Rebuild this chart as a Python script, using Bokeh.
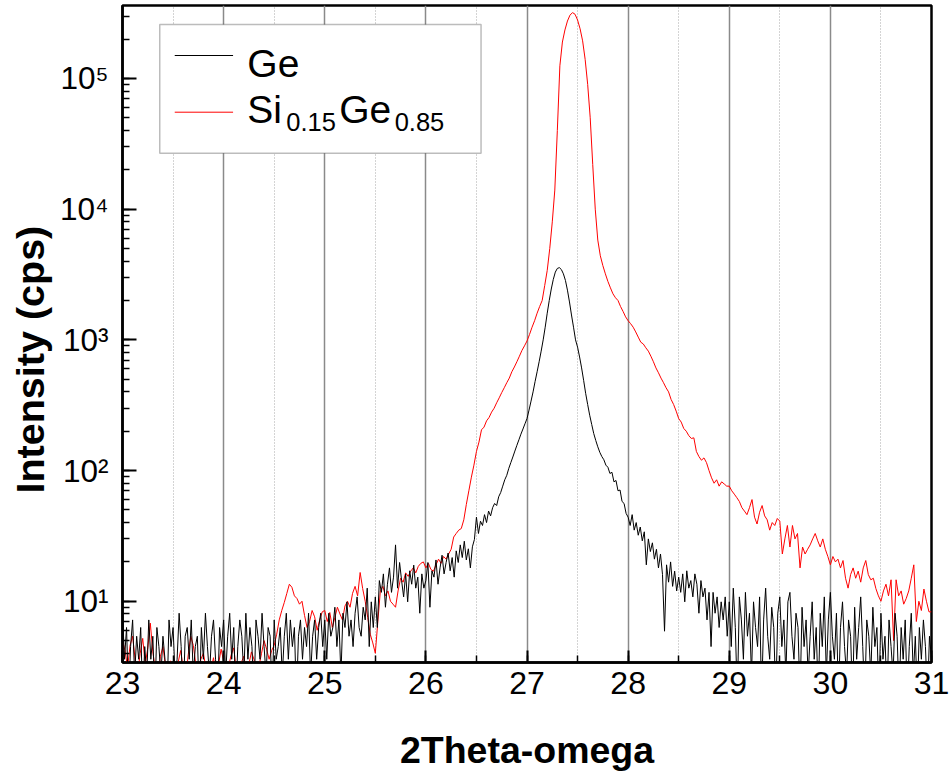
import numpy as np
from bokeh.plotting import figure
from bokeh.models import (Range1d, SingleIntervalTicker, LogTicker, Label, Title,
                          BoxAnnotation, CustomJSTickFormatter)
from bokeh.embed import file_html
from bokeh.resources import INLINE

# ---------------- data ----------------
ge_start, ge_step = 23.0, 0.02
ge_counts = [
    # 23.00 - 24.98
    8.1, 3.6, 6.3, 1.8, 4.5, 7.2, 2.7, 5.4, 3.6, 6.3,
    1.8, 4.5, 2.7, 7.2, 3.6, 5.4, 1.8, 6.3, 4.5, 2.7,
    5.4, 3.6, 1.8, 7.2, 4.5, 6.3, 2.7, 3.6, 8.1, 4.5,
    1.8, 5.4, 6.3, 3.6, 7.2, 2.7, 4.5, 5.4, 1.8, 6.3,
    3.6, 8.1, 4.5, 2.7, 5.4, 7.2, 3.6, 1.8, 6.3, 4.5,
    7.2, 2.7, 5.4, 8.1, 3.6, 6.3, 1.8, 4.5, 7.2, 5.4,
    2.7, 8.1, 3.6, 6.3, 4.5, 1.8, 7.2, 5.4, 3.6, 8.1,
    4.5, 2.7, 6.3, 5.4, 1.8, 7.2, 3.6, 4.5, 6.3, 2.7,
    5.4, 8.1, 3.6, 7.2, 4.5, 6.3, 1.8, 5.4, 7.2, 3.6,
    6.3, 4.5, 8.1, 2.7, 5.4, 7.2, 3.6, 6.3, 8.1, 4.5,
    # 25.00 - 25.48
    7.2, 3.6, 8.1, 5.4, 6.3, 9.0, 4.5, 7.2, 2.7, 8.1,
    6.3, 9.9, 5.4, 7.2, 4.5, 8.1, 10.8, 6.3, 5.4, 9.0,
    7.2, 12.6, 4.5, 9.9, 6.3,
    # 25.50 - 25.98
    10.8, 6.3, 14.4, 11.7, 16.2, 9.0, 13.5, 18.0, 11.7, 15.3,
    27.0, 12.6, 19.8, 14.4, 10.8, 16.2, 9.9, 17.1, 13.5, 18.9,
    12.6, 15.3, 8.1, 16.2, 12.6,
    # 26.00 - 26.48
    14.4, 19.8, 9.0, 17.1, 15.3, 20.7, 13.5, 18.0, 22.5, 16.2,
    19.8, 23.4, 17.1, 21.6, 15.3, 24.3, 19.8, 27.0, 21.6, 28.8,
    20.7, 25.2, 18.0, 26.1, 29.7,
    # 26.50 - 26.98
    44, 33, 41, 38, 46, 40, 49, 45, 52, 56,
    54, 63, 68, 76, 85, 92, 104, 115, 127, 141,
    156, 172, 190, 208, 228,
    # 27.00 - 27.48
    250, 290, 340, 400, 480, 570, 680, 820, 1000, 1250,
    1600, 2000, 2450, 2900, 3300, 3520, 3570, 3450, 3200, 2850,
    2400, 1950, 1550, 1250, 1000,
    # 27.50 - 27.98
    880, 740, 610, 490, 390, 320, 265, 225, 192, 170,
    152, 138, 128, 121, 110, 106, 95, 97, 82, 84,
    70, 71, 58, 56, 47,
    # 28.00 - 28.48
    44, 38, 46, 35, 40, 32, 37, 29, 34, 19,
    30, 24, 28, 21, 25, 18, 23, 16, 5.9, 19,
    14, 20, 13, 17, 12,
    # 28.50 - 28.98
    15.3, 11.7, 16.2, 9.9, 17.1, 12.6, 14.4, 10.8, 16.2, 13.5,
    8.1, 14.4, 10.8, 12.6, 7.2, 11.7, 4.5, 11.7, 8.1, 10.8,
    6.3, 9.9, 7.2, 10.8, 5.4,
    # 29.00 - 29.98
    9.9, 4.5, 12.6, 6.3, 1.8, 10.8, 7.2, 3.6, 11.7, 5.4,
    8.1, 2.7, 9.9, 6.3, 4.5, 10.8, 1.8, 7.2, 12.6, 5.4,
    3.6, 9.0, 6.3, 1.8, 8.1, 10.8, 4.5, 7.2, 2.7, 9.9,
    11.7, 5.4, 3.6, 8.1, 6.3, 1.8, 9.0, 4.5, 7.2, 2.7,
    5.4, 9.9, 3.6, 6.3, 1.8, 8.1, 4.5, 10.8, 2.7, 7.2,
    # 30.00 - 31.00
    11.7, 5.4, 3.6, 8.1, 1.8, 6.3, 9.9, 4.5, 2.7, 7.2,
    5.4, 1.8, 9.0, 3.6, 6.3, 10.8, 4.5, 1.8, 7.2, 5.4,
    2.7, 9.0, 4.5, 6.3, 1.8, 8.1, 3.6, 5.4, 1.8, 7.2,
    4.5, 2.7, 8.1, 5.4, 1.8, 6.3, 3.6, 7.2, 1.8, 4.5,
    8.1, 2.7, 5.4, 1.8, 6.3, 3.6, 7.2, 4.5, 1.8, 5.4,
    3.6,
]

sige_start, sige_step = 23.0, 0.025
sige_counts = [
    # 23.000 - 24.975
    5.0, 4.2, 3.1, 4.6, 5.4, 3.6, 2.8, 4.0, 5.2, 3.3,
    4.4, 6.8, 4.1, 3.0, 2.6, 3.8, 4.5, 3.2, 2.7, 3.5,
    3.0, 2.5, 3.4, 4.2, 3.1, 2.6, 3.9, 5.4, 4.6, 3.3,
    2.8, 3.6, 4.0, 3.1, 2.5, 3.0, 3.7, 2.7, 3.3, 4.3,
    3.5, 2.6, 3.2, 3.9, 4.4, 3.0, 2.6, 3.4, 3.8, 2.9,
    3.3, 4.1, 3.6, 2.7, 3.2, 4.0, 5.0, 4.3, 3.6, 4.2,
    4.6, 5.6, 7.2, 8.5, 9.8, 11.5, 13.5, 12.8, 11.0, 10.5,
    9.5, 10.0, 7.8, 6.3, 7.0, 8.5, 7.6, 6.0, 7.2, 8.3,
    # 25.000 - 25.975
    8.5, 7.0, 8.2, 6.3, 7.5, 9.0, 8.0, 7.2, 9.2, 10.0,
    9.0, 11.5, 13.0, 11.0, 16.6, 12.5, 10.0, 7.5, 5.6, 4.8,
    4.0, 7.0, 12.0, 13.0, 11.0, 12.0, 10.0, 9.5, 9.0, 12.0,
    15.0, 14.0, 16.5, 15.5, 17.0, 18.0, 16.5, 18.5, 19.5, 20.0,
    # 26.000 - 26.975
    18.0, 19.5, 17.5, 17.0, 19.0, 21.0, 19.5, 22.0, 21.0, 23.0,
    25.0, 31.0, 33.0, 35.0, 36.0, 42.0, 55.0, 70.0, 89.0, 110.0,
    140, 165, 205, 215, 240, 255, 280, 300, 330, 360,
    395, 430, 470, 510, 570, 620, 680, 750, 830, 900,
    # 27.000 - 27.975
    980, 1100, 1250, 1400, 1600, 1800, 2000, 2600, 3400, 5000,
    8000, 14000, 40000, 125000, 190000, 235000, 275000, 305000, 319000, 310000,
    280000, 240000, 194000, 140000, 90000, 50000, 22000, 10000, 5800, 4400,
    3700, 3200, 2800, 2500, 2250, 2100, 2000, 1800, 1650, 1500,
    # 28.000 - 28.975
    1400, 1330, 1250, 1150, 1050, 960, 930, 870, 820, 750,
    680, 610, 560, 510, 470, 430, 400, 350, 320, 285,
    250, 235, 210, 200, 185, 176, 178, 140, 128, 120,
    125, 115, 100, 88, 80, 85, 76, 82, 79, 76,
    # 29.000 - 29.975
    76, 70, 66, 62, 58, 52, 49, 46, 52, 60,
    44, 39, 48, 54, 45, 42, 35, 40, 38, 43,
    41, 23, 30, 38, 26, 38, 30, 33, 18, 26,
    23, 25, 27, 30, 33, 29, 26, 30, 25, 22,
    # 30.000 - 31.000
    19, 22, 20, 21, 18, 20.5, 15, 12.6, 16, 18,
    15, 17, 14, 18, 20.5, 16, 14.6, 15, 12.5, 11,
    10, 12, 13.5, 11, 14.6, 5, 14.6, 11, 12, 9.5,
    10.5, 12, 15, 19, 7, 10, 8.5, 12.4, 10, 8.3,
    8.3,
]

x_tick_values = [23, 24, 25, 26, 27, 28, 29, 30, 31]
y_tick_exponents = [1, 2, 3, 4, 5]
series_names = ["Ge", "Si0.15Ge0.85"]
x_title = "2Theta-omega"
y_title = "Intensity (cps)"

ge_x = ge_start + ge_step * np.arange(len(ge_counts))
sige_x = sige_start + sige_step * np.arange(len(sige_counts))

# ---------------- geometry ----------------
FIG_W, FIG_H = 950, 774
B_LEFT, B_RIGHT, B_TOP, B_BOTTOM = 121, 19, 5, 112
FRAME_W = FIG_W - B_LEFT - B_RIGHT
FRAME_H = FIG_H - B_TOP - B_BOTTOM
X0, X1 = 23.0, 31.0
Y0 = 3.4
DECADE_PX = 130.7
Y1 = 10 ** (np.log10(Y0) + FRAME_H / DECADE_PX)

FL = B_LEFT              # frame left (px)
FB = B_TOP + FRAME_H     # frame bottom (px)


def X(px):
    return X0 + (px - FL) * (X1 - X0) / FRAME_W


def Y(py):
    return 10 ** (np.log10(Y0) + (FB - py) / DECADE_PX)


FONT = "Liberation Sans"

p = figure(width=FIG_W, height=FIG_H, output_backend="svg", toolbar_location=None,
           title=None, y_axis_type="log",
           x_range=Range1d(X0, X1), y_range=Range1d(Y0, Y1),
           min_border_left=B_LEFT, min_border_right=B_RIGHT,
           min_border_top=B_TOP, min_border_bottom=B_BOTTOM)
p.background_fill_color = "white"
p.border_fill_color = "white"
p.outline_line_color = "black"
p.outline_line_width = 2.5

# x axis
p.xaxis.ticker = SingleIntervalTicker(interval=1, num_minor_ticks=2)
p.xaxis.axis_line_width = 2.5
p.xaxis.axis_line_color = "black"
p.xaxis.major_tick_in = 12
p.xaxis.major_tick_out = 0
p.xaxis.minor_tick_in = 7
p.xaxis.minor_tick_out = 0
p.xaxis.major_tick_line_width = 2
p.xaxis.minor_tick_line_width = 1.5
p.xaxis.major_tick_line_color = "black"
p.xaxis.minor_tick_line_color = "black"
p.xaxis.major_label_text_font = FONT
p.xaxis.major_label_text_font_size = "32px"
p.xaxis.major_label_text_color = "black"
p.xaxis.major_label_standoff = 9
p.xaxis.axis_label = x_title
p.xaxis.axis_label_text_font = FONT
p.xaxis.axis_label_text_font_size = "37.5px"
p.xaxis.axis_label_text_font_style = "bold"
p.xaxis.axis_label_text_color = "black"
p.xaxis.axis_label_text_line_height = 1.0
p.xaxis.axis_label_standoff = 32

# y axis: 10 with superscript exponent
p.yaxis.ticker = LogTicker(num_minor_ticks=10)
p.yaxis.formatter = CustomJSTickFormatter(code="""
const sup = ["\u2070", "\u00b9", "\u00b2", "\u00b3", "\u2074", "\u2075", "\u2076", "\u2077", "\u2078", "\u2079"];
const e = Math.round(Math.log10(tick));
return "10" + String(e).split("").map(d => sup[parseInt(d)]).join("");
""")
p.yaxis.axis_line_width = 2.5
p.yaxis.axis_line_color = "black"
p.yaxis.major_tick_in = 14
p.yaxis.major_tick_out = 0
p.yaxis.minor_tick_in = 7
p.yaxis.minor_tick_out = 0
p.yaxis.major_tick_line_width = 2
p.yaxis.minor_tick_line_width = 1.5
p.yaxis.major_tick_line_color = "black"
p.yaxis.minor_tick_line_color = "black"
p.yaxis.major_label_text_font = FONT
p.yaxis.major_label_text_font_size = "31.5px"
p.yaxis.major_label_text_color = "black"
p.yaxis.major_label_standoff = 14

# y title: starts 169 px above the frame bottom, as in the reference
p.add_layout(Title(text=y_title, align="left", offset=169, text_font=FONT,
                   text_font_size="39.5px", text_font_style="bold",
                   text_color="black"), "left")

# grid
p.ygrid.grid_line_color = None
p.xgrid.grid_line_color = "#8a8a8a"
p.xgrid.grid_line_width = 1.5
p.xgrid.minor_grid_line_color = "#a8a8a8"
p.xgrid.minor_grid_line_width = 1
p.xgrid.minor_grid_line_dash = "1 2"

# data
p.line(sige_x, sige_counts, line_color="#ff0000", line_width=1)
p.line(ge_x, ge_counts, line_color="black", line_width=1)

# legend
p.add_layout(BoxAnnotation(left=X(158.3), right=X(480), top=Y(24), bottom=Y(152.7),
                           fill_color="white", fill_alpha=1.0,
                           line_color="#222222", line_width=1.5))
p.segment(x0=[X(173.3), X(173.3)], x1=[X(231.7), X(231.7)],
          y0=[Y(55), Y(111.7)], y1=[Y(55), Y(111.7)],
          line_color=["black", "#ff0000"], line_width=1, level="overlay")
big, small = "39px", "25.5px"
DY = 12  # svg text sits lower than the nominal baseline
p.add_layout(Label(x=X(246), y=Y(75 - DY), text=series_names[0], text_font=FONT,
                   text_font_size=big, text_baseline="alphabetic", text_color="black"))
p.add_layout(Label(x=X(246), y=Y(121 - DY), text="Si", text_font=FONT,
                   text_font_size=big, text_baseline="alphabetic", text_color="black"))
p.add_layout(Label(x=X(285), y=Y(133 - DY), text="0.15", text_font=FONT,
                   text_font_size=small, text_baseline="alphabetic", text_color="black"))
p.add_layout(Label(x=X(338), y=Y(121 - DY), text="Ge", text_font=FONT,
                   text_font_size=big, text_baseline="alphabetic", text_color="black"))
p.add_layout(Label(x=X(393.5), y=Y(133 - DY), text="0.85", text_font=FONT,
                   text_font_size=small, text_baseline="alphabetic", text_color="black"))

open("out.html", "w").write(file_html(p, INLINE))
